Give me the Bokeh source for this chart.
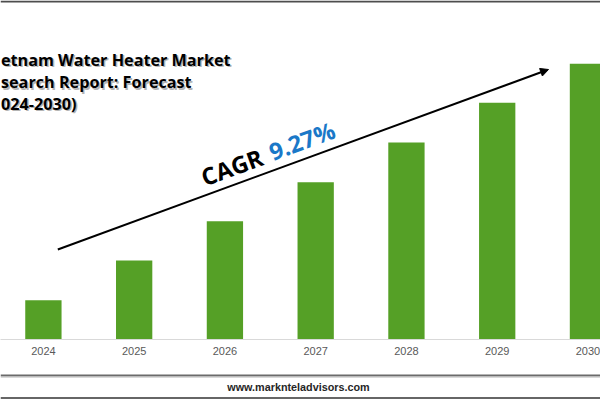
from bokeh.plotting import figure
from bokeh.layouts import column
from bokeh.models import Range1d, FixedTicker, Arrow, NormalHead, Span
from bokeh.core.properties import value
from bokeh.embed import file_html
from bokeh.resources import INLINE

# ---- data ----
years = [2024, 2025, 2026, 2027, 2028, 2029, 2030]
year_labels = ["2024", "2025", "2026", "2027", "2028", "2029", "2030"]
bar_values = [39.3, 79.0, 118.3, 157.3, 197.0, 236.7, 275.7]   # relative market size (bar height units)
# the reference image is cropped at its left edge; these are the visible parts of the title
title_lines = ["etnam Water Heater Market", "search Report: Forecast", "024-2030)"]
cagr_label = "CAGR"
cagr_value = "9.27%"
footer_text = "www.marknteladvisors.com"

# ---- layout constants ----
W = 600
PX = 90.76                      # pixels per year
X0 = years[0] - 42.9 / PX
X1 = X0 + W / PX
FRAME_H = 339
TOP_H = 370

def dx(px):
    return X0 + px / PX

def dy(py):
    return FRAME_H - py

GREEN = "#55a026"
BLUE = "#1a78c8"

p = figure(width=W, height=TOP_H, output_backend="svg", toolbar_location=None,
           x_range=Range1d(X0, X1), y_range=Range1d(0, FRAME_H),
           y_axis_location=None, x_axis_location="below",
           min_border_left=0, min_border_right=0, min_border_top=0,
           min_border_bottom=TOP_H - FRAME_H)
p.outline_line_color = None
p.grid.visible = False
p.background_fill_color = "white"
p.border_fill_color = "white"

p.vbar(x=years, top=bar_values, width=0.4, fill_color=GREEN, line_color=None)

ax = p.xaxis[0]
ax.ticker = FixedTicker(ticks=years)
ax.major_label_overrides = {y: s for y, s in zip(years, year_labels)}
ax.axis_line_color = "#d9d9d9"
ax.axis_line_width = 1
ax.major_tick_line_color = None
ax.minor_tick_line_color = None
ax.major_tick_out = 0
ax.major_tick_in = 0
ax.minor_tick_out = 0
ax.major_label_standoff = 7
ax.major_label_text_color = "#595959"
ax.major_label_text_font = "Liberation Sans"
ax.major_label_text_font_size = "11px"

# top border
p.add_layout(Span(location=FRAME_H - 1, dimension="width", line_color="#4d4d4d", line_width=2))

# title with soft shadow
tx = dx(0.5)
ty = [dy(59), dy(81.5), dy(103)]
p.text(x=[tx + 1.5 / PX] * 3, y=[v - 1.5 for v in ty], text=title_lines,
       text_font=value("Open Sans"), text_font_style="bold", text_font_size="16.2px",
       text_color="#a0a0a0", text_alpha=0.8, text_baseline="alphabetic", text_align="left")
p.text(x=[tx] * 3, y=ty, text=title_lines,
       text_font=value("Open Sans"), text_font_style="bold", text_font_size="16.2px",
       text_color="black", text_baseline="alphabetic", text_align="left")

# CAGR arrow
p.add_layout(Arrow(x_start=dx(57.3), y_start=dy(249), x_end=dx(548), y_end=dy(69),
                   line_color="black", line_width=2,
                   end=NormalHead(size=8, fill_color="black", line_color="black")))

ang = 0.351
p.text(x=[dx(201.5)], y=[dy(177.5)], text=[cagr_label], angle=ang,
       text_font=value("Open Sans"), text_font_style="bold", text_font_size="23.5px",
       text_color="black", text_baseline="alphabetic", text_align="left")
p.text(x=[dx(269.5)], y=[dy(152)], text=[cagr_value], angle=ang,
       text_font=value("Open Sans"), text_font_style="bold", text_font_size="23.5px",
       text_color=BLUE, text_baseline="alphabetic", text_align="left")

# footer strip (reference rows 370..400)
FH = 400 - TOP_H
f = figure(width=W, height=FH, output_backend="svg", toolbar_location=None,
           x_range=Range1d(0, W), y_range=Range1d(FH, 0),
           x_axis_location=None, y_axis_location=None,
           min_border=0, min_border_left=0, min_border_right=0, min_border_top=0, min_border_bottom=0)
f.outline_line_color = None
f.grid.visible = False
f.background_fill_color = "white"
f.border_fill_color = "white"
f.add_layout(Span(location=5.0, dimension="width", line_color="#6b6b6b", line_width=2))
f.add_layout(Span(location=6.7, dimension="width", line_color="#c8c8c8", line_width=1))
f.add_layout(Span(location=27.5, dimension="width", line_color="#333333", line_width=1.5))
f.text(x=[298], y=[16.7], text=[footer_text], text_font=value("Liberation Sans"),
       text_font_style="bold", text_font_size="10.8px", text_color="#262626",
       text_align="center", text_baseline="middle")

layout = column(p, f, spacing=0)
open("out.html", "w").write(file_html(layout, INLINE))
